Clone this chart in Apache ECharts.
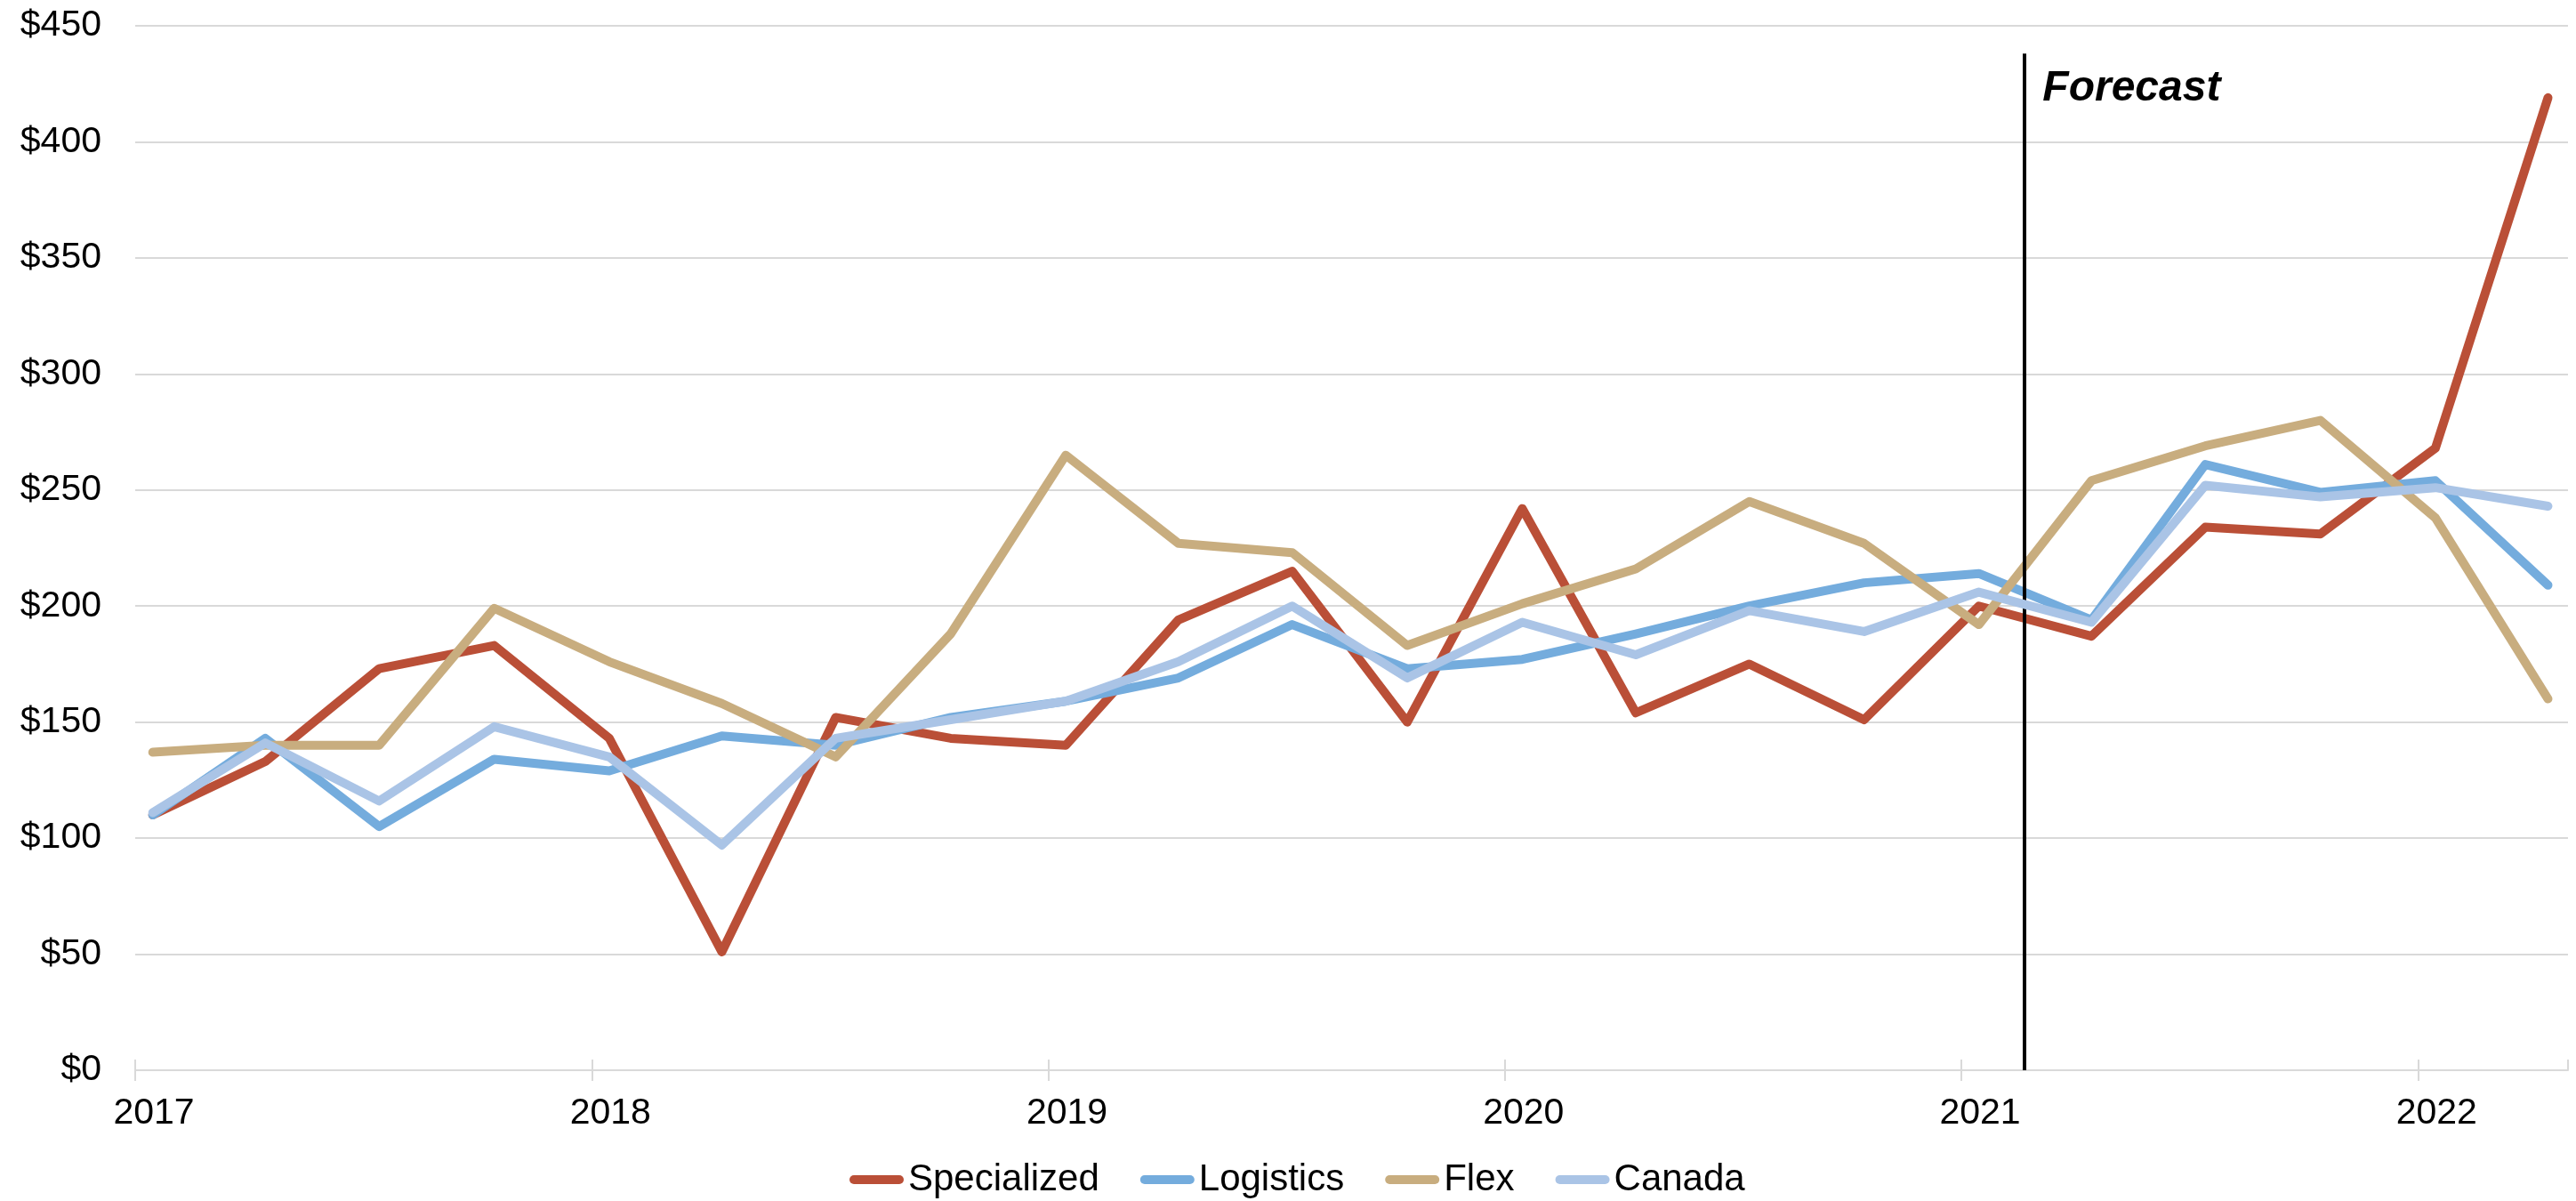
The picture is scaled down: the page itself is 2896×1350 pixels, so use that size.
<!DOCTYPE html>
<html>
<head>
<meta charset="utf-8">
<script src="https://cdn.jsdelivr.net/npm/echarts@6/dist/echarts.min.js"></script>
<style>
  html, body { margin: 0; padding: 0; background: #ffffff; }
  #chart { width: 2896px; height: 1350px; }
</style>
</head>
<body>
<div id="chart"></div>
<script>
// Quarterly observation dates
const dates = [
  '2017-01-15', '2017-04-15', '2017-07-15', '2017-10-15',
  '2018-01-15', '2018-04-15', '2018-07-15', '2018-10-15',
  '2019-01-15', '2019-04-15', '2019-07-15', '2019-10-15',
  '2020-01-15', '2020-04-15', '2020-07-15', '2020-10-15',
  '2021-01-15', '2021-04-15', '2021-07-15', '2021-10-15',
  '2022-01-15', '2022-04-15'
];

const specialized = [110, 133, 173, 183, 143, 51, 152, 143, 140, 194, 215, 150, 242, 154, 175, 151, 200, 187, 234, 231, 268, 419];
const logistics   = [110, 143, 105, 134, 129, 144, 140, 152, 159, 169, 192, 173, 177, 188, 200, 210, 214, 194, 261, 249, 254, 209];
const flex        = [137, 140, 140, 199, 176, 158, 135, 188, 265, 227, 223, 183, 201, 216, 245, 227, 192, 254, 269, 280, 238, 160];
const canada      = [111, 141, 116, 148, 135, 97, 143, 151, 159, 176, 200, 169, 193, 179, 198, 189, 206, 193, 252, 247, 251, 243];

const seriesNames = ['Specialized', 'Logistics', 'Flex', 'Canada'];
const seriesColors = ['#BA4F37', '#74ACDD', '#C8AD7F', '#AAC4E6'];

// Forecast period starts here
const forecastStart = '2021-02-20';
const forecastLabel = 'Forecast';
const forecastLineTop = 438;

// Axis range (years)
const xMinDate = '2017-01-01';
const xMaxDate = '2022-05-01';
const yMin = 0, yMax = 450, yStep = 50;

// Convert an ISO date into a fractional year for the value axis
function toYear(iso) {
  const [y, m, d] = iso.split('-').map(Number);
  const start = Date.UTC(y, 0, 1);
  const end = Date.UTC(y + 1, 0, 1);
  return y + (Date.UTC(y, m - 1, d) - start) / (end - start);
}

const xs = dates.map(toYear);
const allValues = [specialized, logistics, flex, canada];
const fx = toYear(forecastStart);

const FONT = "'Liberation Sans', Arial, sans-serif";
const GRID_GRAY = '#d9d9d9';

const series = allValues.map((vals, i) => ({
  name: seriesNames[i],
  type: 'line',
  data: vals.map((v, j) => [xs[j], v]),
  showSymbol: false,
  symbol: 'none',
  color: seriesColors[i],
  lineStyle: { width: 10, color: seriesColors[i], cap: 'round', join: 'round' },
  z: 2 + i,
  animation: false
}));

series[0].markLine = {
  silent: true,
  symbol: ['none', 'none'],
  label: { show: false },
  lineStyle: { color: '#000000', width: 4, type: 'solid' },
  data: [[{ coord: [fx, 0] }, { coord: [fx, forecastLineTop] }]],
  animation: false
};

const capsule = 'path://M5,0 H56 A5,5 0 0 1 56,10 H5 A5,5 0 0 1 5,0 Z';

const chart = echarts.init(document.getElementById('chart'), null, { renderer: 'canvas' });

chart.setOption({
  backgroundColor: '#ffffff',
  animation: false,
  textStyle: { fontFamily: FONT },
  grid: { left: 152, right: 9, top: 29, bottom: 147, containLabel: false },
  legend: {
    data: seriesNames.map((n) => ({ name: n, icon: capsule })),
    left: 950,
    top: 1300,
    itemWidth: 61,
    itemHeight: 10,
    itemGap: 46,
    textStyle: { fontSize: 42, color: '#000000', fontFamily: FONT }
  },
  xAxis: [
    {
      type: 'value',
      min: toYear(xMinDate),
      max: toYear(xMaxDate),
      interval: 1,
      position: 'bottom',
      axisLine: { show: true, lineStyle: { color: GRID_GRAY, width: 2 } },
      axisTick: { show: true, inside: false, length: 12, lineStyle: { color: GRID_GRAY, width: 2 } },
      axisLabel: {
        show: true, fontSize: 41, color: '#000000', fontFamily: FONT, margin: 28,
        padding: [0, 0, 0, 42],
        showMaxLabel: false,
        formatter: (v) => String(Math.round(v))
      },
      splitLine: { show: false }
    },
    {
      type: 'value',
      min: toYear(xMinDate),
      max: toYear(xMaxDate),
      interval: 1,
      position: 'bottom',
      axisLine: { show: false },
      axisTick: { show: true, inside: true, length: 12, lineStyle: { color: GRID_GRAY, width: 2 } },
      axisLabel: { show: false },
      splitLine: { show: false }
    }
  ],
  yAxis: {
    type: 'value',
    min: yMin,
    max: yMax,
    interval: yStep,
    axisLine: { show: false },
    axisTick: { show: false },
    axisLabel: {
      fontSize: 41, color: '#000000', fontFamily: FONT, margin: 38,
      formatter: (v) => '$' + v
    },
    splitLine: { show: true, lineStyle: { color: GRID_GRAY, width: 2 } }
  },
  series: series
});

// Place the "Forecast" caption just right of the forecast divider
const topPt = chart.convertToPixel({ xAxisIndex: 0, yAxisIndex: 0 }, [fx, forecastLineTop]);
chart.setOption({
  graphic: [{
    type: 'text',
    left: topPt[0] + 21,
    top: topPt[1] + 15,
    silent: true,
    style: {
      text: forecastLabel,
      fontSize: 48,
      fontWeight: 'bold',
      fontStyle: 'italic',
      fontFamily: FONT,
      fill: '#000000'
    }
  }]
});
</script>
</body>
</html>
